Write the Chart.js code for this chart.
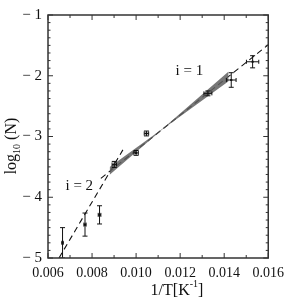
<!DOCTYPE html>
<html>
<head>
<meta charset="utf-8">
<script src="https://cdn.jsdelivr.net/npm/chart.js@4.4.1/dist/chart.umd.min.js"></script>
<style>
  html, body { margin: 0; padding: 0; background: #fff; }
  #wrap { width: 291px; height: 301px; }
</style>
</head>
<body>
<div id="wrap"><canvas id="arrhenius" width="291" height="301"></canvas></div>
<script>
// measured points: 1/T, log10(N) and their error bars
const invT   = [0.00666, 0.00768, 0.00834, 0.00901, 0.0100, 0.01047, 0.01326, 0.01432, 0.01529];
const logN   = [-4.75, -4.45, -4.29, -3.46, -3.27, -2.95, -2.29, -2.07, -1.77];
const xErr   = [0.00003, 0.00005, 0.00006, 0.0001, 0.0001, 0.0001, 0.00018, 0.00022, 0.00028];
const yErr   = [0.25, 0.19, 0.15, 0.05, 0.04, 0.04, 0.04, 0.12, 0.10];

// dashed fits
const fit1X = [0.0084, 0.016];
const fit1Y = [-3.69, -1.49];
const fit2X = [0.0065, 0.0094];
const fit2Y = [-5.0, -3.22];

// grey confidence band around the i = 1 fit
const bandX     = [0.0088, 0.0112, 0.0142];
const bandUpper = [-3.50, -2.872, -1.93];
const bandLower = [-3.63, -2.882, -2.09];

const xTicks = [0.006, 0.008, 0.010, 0.012, 0.014, 0.016];
const yTicks = [-5, -4, -3, -2, -1];

const serif = "'Liberation Serif', 'DejaVu Serif', serif";

function pts(xs, ys) {
    return xs.map((x, i) => ({ x: x, y: ys[i] }));
}

// error bars, frame, inward ticks and text labels
const decorations = {
    id: 'decorations',
    afterDatasetsDraw(chart) {
        const ctx = chart.ctx;
        const xs = chart.scales.x, ys = chart.scales.y;
        const a = chart.chartArea;

        ctx.save();
        ctx.beginPath();
        ctx.rect(a.left, a.top, a.right - a.left, a.bottom - a.top);
        ctx.clip();
        ctx.strokeStyle = '#111';
        ctx.lineWidth = 1;
        invT.forEach((x, i) => {
            const px = xs.getPixelForValue(x), py = ys.getPixelForValue(logN[i]);
            const y0 = ys.getPixelForValue(logN[i] - yErr[i]);
            const y1 = ys.getPixelForValue(logN[i] + yErr[i]);
            const x0 = xs.getPixelForValue(x - xErr[i]);
            const x1 = xs.getPixelForValue(x + xErr[i]);
            ctx.beginPath();
            ctx.moveTo(px, y0); ctx.lineTo(px, y1);
            ctx.moveTo(px - 2.5, y0); ctx.lineTo(px + 2.5, y0);
            ctx.moveTo(px - 2.5, y1); ctx.lineTo(px + 2.5, y1);
            ctx.moveTo(x0, py); ctx.lineTo(x1, py);
            ctx.moveTo(x0, py - 2); ctx.lineTo(x0, py + 2);
            ctx.moveTo(x1, py - 2); ctx.lineTo(x1, py + 2);
            ctx.stroke();
        });
        ctx.restore();

        ctx.save();
        ctx.strokeStyle = '#333';
        ctx.lineWidth = 1.5;
        ctx.strokeRect(a.left, a.top, a.right - a.left, a.bottom - a.top);

        ctx.lineWidth = 1;
        ctx.beginPath();
        for (let v = 0.006; v <= 0.01601; v += 0.001) {
            const px = xs.getPixelForValue(v);
            const major = Math.abs(Math.round(v * 1000) % 2) === 0;
            const len = major ? 5 : 3;
            ctx.moveTo(px, a.bottom); ctx.lineTo(px, a.bottom - len);
            ctx.moveTo(px, a.top); ctx.lineTo(px, a.top + len);
        }
        for (let k = 0; k <= 32; k++) {
            const v = -5 + k * 0.125;
            const py = ys.getPixelForValue(v);
            const len = (k % 8 === 0) ? 5 : 2.5;
            ctx.moveTo(a.left, py); ctx.lineTo(a.left + len, py);
            ctx.moveTo(a.right, py); ctx.lineTo(a.right - len, py);
        }
        ctx.stroke();

        ctx.fillStyle = '#111';
        ctx.textAlign = 'center';
        ctx.textBaseline = 'middle';
        ctx.font = '15px ' + serif;
        ctx.fillText('i = 1', xs.getPixelForValue(0.01242), ys.getPixelForValue(-1.93));
        ctx.fillText('i = 2', xs.getPixelForValue(0.00742), ys.getPixelForValue(-3.82));

        // x axis title 1/T[K^-1]
        ctx.textAlign = 'left';
        ctx.textBaseline = 'alphabetic';
        ctx.font = '16px ' + serif;
        const main = '1/T[K';
        const wMain = ctx.measureText(main).width;
        ctx.font = '10px ' + serif;
        const wSup = ctx.measureText('-1').width;
        ctx.font = '16px ' + serif;
        const wEnd = ctx.measureText(']').width;
        let tx = 177 - (wMain + wSup + wEnd) / 2;
        ctx.fillText(main, tx, 295);
        tx += wMain;
        ctx.font = '10px ' + serif;
        ctx.fillText('-1', tx, 287);
        tx += wSup;
        ctx.font = '16px ' + serif;
        ctx.fillText(']', tx, 295);

        // y axis title log10 (N)
        ctx.translate(16, 146);
        ctx.rotate(-Math.PI / 2);
        ctx.font = '16px ' + serif;
        const wLog = ctx.measureText('log').width;
        ctx.font = '10px ' + serif;
        const wTen = ctx.measureText('10').width;
        ctx.font = '16px ' + serif;
        const wN = ctx.measureText(' (N)').width;
        let ty = -(wLog + wTen + wN) / 2;
        ctx.fillText('log', ty, 0);
        ty += wLog;
        ctx.font = '10px ' + serif;
        ctx.fillText('10', ty, 4);
        ty += wTen;
        ctx.font = '16px ' + serif;
        ctx.fillText(' (N)', ty, 0);
        ctx.restore();
    }
};

new Chart(document.getElementById('arrhenius'), {
    type: 'scatter',
    data: {
        datasets: [
            {
                data: pts(bandX, bandUpper),
                showLine: true,
                borderWidth: 0,
                pointRadius: 0,
                backgroundColor: 'rgba(95,95,95,0.85)',
                fill: '+1'
            },
            {
                data: pts(bandX, bandLower),
                showLine: true,
                borderWidth: 0,
                pointRadius: 0,
                fill: false
            },
            {
                data: pts(fit1X, fit1Y),
                showLine: true,
                borderColor: '#111',
                borderWidth: 1.1,
                borderDash: [6, 4],
                pointRadius: 0
            },
            {
                data: pts(fit2X, fit2Y),
                showLine: true,
                borderColor: '#111',
                borderWidth: 1.1,
                borderDash: [6, 4],
                pointRadius: 0
            },
            {
                data: pts(invT, logN),
                pointStyle: 'rect',
                pointRadius: 1.5,
                backgroundColor: '#111',
                borderColor: '#111',
                borderWidth: 0
            }
        ]
    },
    options: {
        responsive: false,
        animation: false,
        events: [],
        layout: { padding: { top: 4, right: 17, left: 0, bottom: 0 } },
        plugins: { legend: { display: false }, tooltip: { enabled: false } },
        scales: {
            x: {
                type: 'linear',
                min: 0.006,
                max: 0.016,
                afterBuildTicks: (scale) => { scale.ticks = xTicks.map(v => ({ value: v })); },
                afterFit: (scale) => { scale.height = 43; },
                grid: { display: false, drawTicks: false },
                border: { display: false },
                ticks: {
                    padding: 7,
                    color: '#111',
                    maxRotation: 0,
                    font: { family: serif, size: 14 },
                    callback: (v) => v.toFixed(3)
                }
            },
            y: {
                type: 'linear',
                min: -5,
                max: -1,
                afterBuildTicks: (scale) => { scale.ticks = yTicks.map(v => ({ value: v })); },
                afterFit: (scale) => { scale.width = 48; },
                grid: { display: false, drawTicks: false },
                border: { display: false },
                ticks: {
                    padding: 6,
                    color: '#111',
                    font: { family: serif, size: 15 },
                    callback: (v) => '\u2212 ' + Math.abs(v)
                }
            }
        }
    },
    plugins: [decorations]
});
</script>
</body>
</html>
